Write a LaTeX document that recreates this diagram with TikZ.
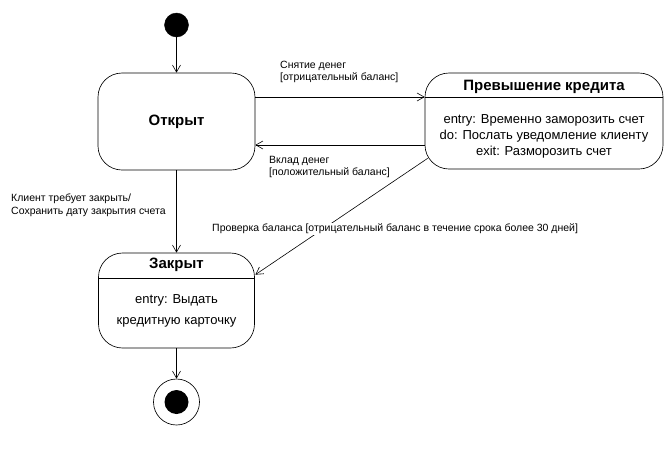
\documentclass[tikz,border=0pt]{standalone}
\usepackage{fontspec}
\setmainfont{Liberation Sans}
\usetikzlibrary{arrows.meta,calc}
\begin{document}
\begin{tikzpicture}[x=1pt,y=-1pt,
  state/.style={draw,line width=0.65pt,rounded corners=24pt,inner sep=0pt},
  ttl/.style={font=\fontsize{15}{17}\selectfont\bfseries,inner sep=0pt},
  body/.style={font=\fontsize{13}{16}\selectfont,inner sep=0pt,align=center},
  lbl/.style={font=\fontsize{10.5}{12}\selectfont,inner sep=0pt,anchor=west,align=left},
  arr/.style={line width=0.6pt,-{Straight Barb[length=7pt,width=8pt]}},
  ln/.style={line width=0.65pt}]
\useasboundingbox (0,0) rectangle (667,453);
% initial state
\node[circle,fill=black,draw,minimum size=24pt,inner sep=0pt] (start) at (176.5,25) {};
% Открыт
\node[state,minimum width=157pt,minimum height=97pt,ttl] (open) at (176.5,121.5) {Открыт};
% Превышение кредита
\node[state,minimum width=238pt,minimum height=96pt] (over) at (544,121) {};
\node[ttl] (overt) at (544,87) {Превышение кредита};
\coordinate (overdiv) at (544,97);
\draw[ln] (over.west |- overdiv) -- (over.east |- overdiv);
\node[body] (overb) at (544,136) {entry: Временно заморозить счет\\do: Послать уведомление клиенту\\exit: Разморозить счет};
% Закрыт
\node[state,minimum width=156pt,minimum height=95pt] (closed) at (176.5,300.5) {};
\node[ttl] (closedt) at (176.5,265) {Закрыт};
\coordinate (closeddiv) at (176.5,278);
\draw[ln] (closed.west |- closeddiv) -- (closed.east |- closeddiv);
\node[body,font=\fontsize{13}{21}\selectfont] (closedb) at (176.5,310.5) {entry: Выдать\\кредитную карточку};
% final state
\node[circle,draw,line width=0.65pt,minimum size=46pt,inner sep=0pt] (final) at (176.5,402) {};
\node[circle,fill=black,minimum size=24pt,inner sep=0pt] (finalin) at (final.center) {};
% connectors
\draw[arr] (start) -- (open);
\draw[arr] (open.east |- overdiv) -- (over.west |- overdiv);
\coordinate (backy) at (544,145);
\draw[arr] (over.west |- backy) -- (open.east |- backy);
\draw[arr] (open) -- (closed);
\draw[arr] (closed) -- (final);
\draw[arr] ([shift={(3,-11)}]over.south west) -- ([shift={(0.5,22)}]closed.north east);
% labels
\node[lbl] (l1) at (280,72) {Снятие денег\\{[}отрицательный баланс{]}};
\node[lbl] (l2) at (269,167) {Вклад денег\\{[}положительный баланс{]}};
\node[lbl,font=\fontsize{10.5}{13}\selectfont] (l3) at (11,205.5) {Клиент требует закрыть/\\Сохранить дату закрытия счета};
\node[lbl,fill=white,inner ysep=1.5pt] (l4) at (212,229) {Проверка баланса [отрицательный баланс в течение срока более 30 дней]};
\end{tikzpicture}
\end{document}
